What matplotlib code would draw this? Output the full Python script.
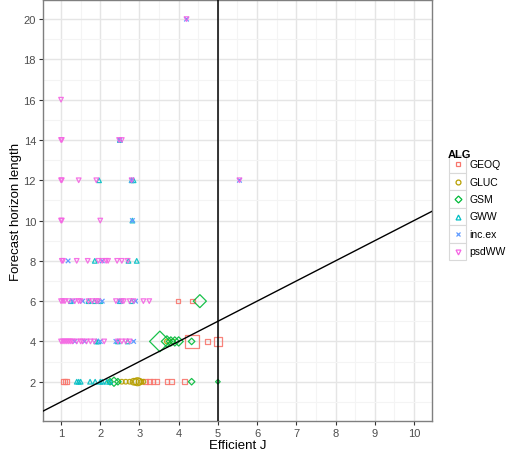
import matplotlib
matplotlib.use("Agg")
import matplotlib.pyplot as plt
from matplotlib.lines import Line2D
from matplotlib.patches import Rectangle
import numpy as np

plt.rcParams['font.family'] = ['Liberation Sans', 'DejaVu Sans']

# data per algorithm: Efficient J, forecast horizon, count (mapped to size)
geoq_x = [1.05, 1.1, 1.15, 3.15, 3.25, 3.35, 3.45, 3.7, 3.82, 4.15, 4.33, 4.74, 5.0, 3.98, 4.35]
geoq_y = [2, 2, 2, 2, 2, 2, 2, 2, 2, 2, 4, 4, 4, 6, 6]
geoq_n = [1, 1, 1, 1, 1, 1, 1, 1, 1, 1, 9, 1, 3.5, 1, 1]

gluc_x = [2.55, 2.65, 2.75, 2.85, 2.9, 2.95, 3.0, 3.05, 3.1, 3.7, 3.85]
gluc_y = [2, 2, 2, 2, 2, 2, 2, 2, 2, 4, 4]
gluc_n = [1, 1, 1, 2, 2, 3, 2, 1, 1, 1, 1]

gsm_x = [2.25, 2.35, 2.45, 4.33, 5.0, 3.52, 3.7, 3.8, 3.9, 4.0, 4.33, 4.54]
gsm_y = [2, 2, 2, 2, 2, 4, 4, 4, 4, 4, 4, 6]
gsm_n = [1, 2, 1, 1, 0.5, 10, 3, 2, 2, 2, 1, 4]

gww_x = [1.4, 1.45, 1.5, 1.74, 1.87, 2.0, 2.05, 2.17, 2.25, 1.9, 1.95, 2.45, 2.7,
         1.25, 1.7, 1.85, 2.0, 2.5, 2.8, 1.86, 2.72, 2.93, 2.82, 1.97, 2.8, 2.85, 2.5]
gww_y = [2, 2, 2, 2, 2, 2, 2, 2, 2, 4, 4, 4, 4,
         6, 6, 6, 6, 6, 6, 8, 8, 8, 10, 12, 12, 12, 14]

incex_x = [1.35, 1.6, 2.0, 2.4, 2.85, 1.3, 1.55, 2.05, 2.5, 2.9, 1.18, 2.05,
           2.82, 2.8, 5.55, 2.5, 4.2]
incex_y = [4, 4, 4, 4, 4, 6, 6, 6, 6, 6, 8, 8, 10, 12, 12, 14, 20]

psd_x = [1.0, 1.05, 1.1, 1.15, 1.2, 1.25, 1.3, 1.4, 1.5, 1.55, 1.65, 1.75, 1.85,
         2.1, 2.45, 2.55, 2.65, 2.75,
         1.0, 1.05, 1.1, 1.2, 1.35, 1.45, 1.5, 1.7, 1.8, 1.9, 1.95, 2.4, 2.55,
         2.6, 2.75, 2.85, 3.1, 3.25,
         1.02, 1.05, 1.4, 1.68, 1.95, 2.05, 2.15, 2.2, 2.43, 2.55, 2.7,
         1.0, 1.02, 2.0, 1.0, 1.02, 1.45, 1.9, 2.8, 5.55,
         1.0, 1.02, 2.48, 2.55, 1.0, 4.2]
psd_y = [4] * 18 + [6] * 18 + [8] * 11 + [10] * 3 + [12] * 6 + [14] * 4 + [16, 20]

alg_names = ['GEOQ', 'GLUC', 'GSM', 'GWW', 'inc.ex', 'psdWW']
alg_colors = ['#F8766D', '#B79F00', '#00BA38', '#00BFC4', '#619CFF', '#F564E3']
alg_markers = ['s', 'o', 'D', '^', 'x', 'v']

series = [
    (geoq_x, geoq_y, geoq_n),
    (gluc_x, gluc_y, gluc_n),
    (gsm_x, gsm_y, gsm_n),
    (gww_x, gww_y, [1] * len(gww_x)),
    (incex_x, incex_y, [1] * len(incex_x)),
    (psd_x, psd_y, [1] * len(psd_x)),
]

fig = plt.figure(figsize=(5.07, 4.56), dpi=100)
ax = fig.add_axes([43 / 507, 1 - 422 / 456, (432 - 43) / 507, 421 / 456])

for (xs, ys, ns), col, mk, name in zip(series, alg_colors, alg_markers, alg_names):
    sizes = 11 * np.array(ns, dtype=float)
    if mk == 'x':
        ax.scatter(xs, ys, s=sizes, marker=mk, color=col, linewidths=0.9, zorder=3)
    else:
        ax.scatter(xs, ys, s=sizes, marker=mk, facecolors='none', edgecolors=col,
                   linewidths=0.9, zorder=3, alpha=0.9)

xl = np.array([0.5, 11])
ax.plot(xl, xl, color='black', lw=1.0, zorder=4)
ax.axvline(5, color='black', lw=1.1, zorder=4)

ax.set_xlim(0.54, 10.46)
ax.set_ylim(0.05, 20.95)
ax.set_xticks(range(1, 11))
ax.set_yticks(range(2, 21, 2))
ax.set_xticks(np.arange(1.5, 10.5, 1), minor=True)
ax.set_yticks(np.arange(1, 21, 2), minor=True)
ax.grid(which='major', color='#E5E5E5', lw=1.0, zorder=0)
ax.grid(which='minor', color='#F4F4F4', lw=0.8, zorder=0)
ax.tick_params(which='major', length=3, width=0.8, color='#333333', labelsize=8,
               labelcolor='#4D4D4D', pad=2)
ax.tick_params(which='minor', length=0)
for sp in ax.spines.values():
    sp.set_color('#7F7F7F')
    sp.set_linewidth(1.0)
ax.set_xlabel('Efficient J', fontsize=9.5, labelpad=1)
ax.set_ylabel('Forecast horizon length', fontsize=9.5, labelpad=1)

# legend drawn by hand, ggplot style
W, H = 507, 456
fig.text(448 / W, 1 - 155 / H, 'ALG', fontsize=8, fontweight='bold', va='center', ha='left')
for i, (name, col, mk) in enumerate(zip(alg_names, alg_colors, alg_markers)):
    cy = 165 + i * 17.5
    fig.add_artist(Rectangle((449 / W, 1 - (cy + 8.7) / H), 17 / W, 17.4 / H,
                             transform=fig.transFigure, facecolor='white',
                             edgecolor='#D9D9D9', lw=0.8))
    fig.add_artist(Line2D([457.5 / W], [1 - cy / H], transform=fig.transFigure,
                          marker=mk, markersize=3.5, color=col,
                          markerfacecolor='none', markeredgewidth=0.9, linestyle='none'))
    fig.text(469 / W, 1 - cy / H, name, fontsize=7.5, va='center', ha='left')

fig.savefig('out.png', dpi=100)
